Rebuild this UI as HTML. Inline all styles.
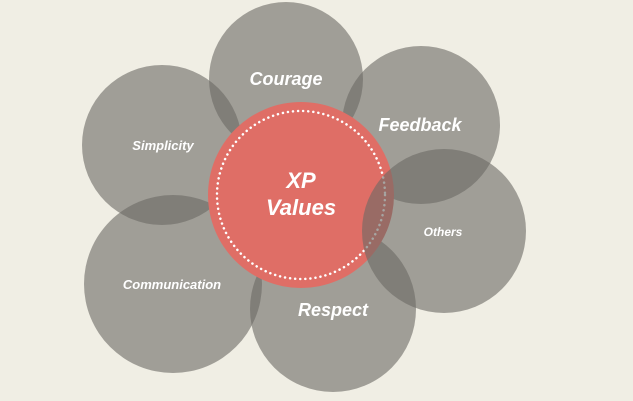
<!DOCTYPE html>
<html><head><style>
html,body{margin:0;padding:0;background:#f0eee4;}
svg{display:block}
text{font-family:"Liberation Sans",sans-serif;font-weight:bold;font-style:italic;fill:#fff;text-anchor:middle}
</style></head><body>
<svg width="633" height="401" viewBox="0 0 633 401">
<rect width="633" height="401" fill="#f0eee4"/>
<g fill="rgb(107,105,100)" fill-opacity="0.6">
<circle cx="286" cy="79" r="77"/>
<circle cx="421" cy="125" r="79"/>
<circle cx="162" cy="145" r="80"/>
<circle cx="173" cy="284" r="89"/>
<circle cx="333" cy="309" r="83"/>
</g>
<circle cx="301" cy="195" r="93" fill="#df6e66"/>
<circle cx="301" cy="195" r="84" fill="none" stroke="#fff" stroke-width="2.5" stroke-dasharray="0.1 5" stroke-linecap="round"/>
<circle cx="444" cy="231" r="82" fill="rgb(107,105,100)" fill-opacity="0.6"/>
<text x="286" y="85" font-size="18">Courage</text>
<text x="420" y="131" font-size="18">Feedback</text>
<text x="163" y="150" font-size="13">Simplicity</text>
<text x="443" y="236" font-size="12">Others</text>
<text x="172" y="289" font-size="13">Communication</text>
<text x="333" y="316" font-size="18">Respect</text>
<text x="301" y="188" font-size="22">XP</text>
<text x="301" y="215" font-size="22">Values</text>
</svg>
</body></html>
